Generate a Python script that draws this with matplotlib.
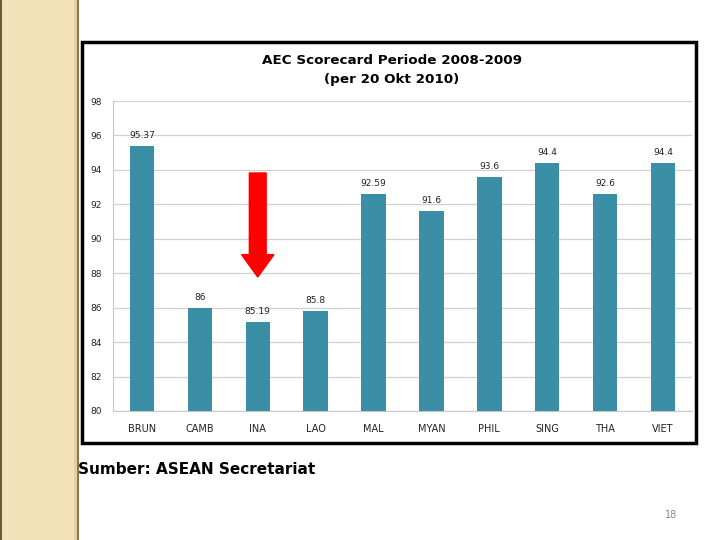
import numpy as np
import matplotlib.pyplot as plt
from matplotlib.patches import Rectangle, FancyArrow

# data
countries = ['BRUN', 'CAMB', 'INA', 'LAO', 'MAL', 'MYAN', 'PHIL', 'SING', 'THA', 'VIET']
scores = [95.37, 86, 85.19, 85.8, 92.59, 91.6, 93.6, 94.4, 92.6, 94.4]
score_labels = ['95.37', '86', '85.19', '85.8', '92.59', '91.6', '93.6', '94.4', '92.6', '94.4']
yticks = [80, 82, 84, 86, 88, 90, 92, 94, 96, 98]

W, H = 720, 540
fig = plt.figure(figsize=[7.2, 5.4], dpi=100, facecolor='white')

# slide decoration: beige strip on the left
fig.patches.append(Rectangle((0, 0), 79/W, 1, transform=fig.transFigure,
                             facecolor='#f3e2b8', edgecolor='none', zorder=0))
fig.patches.append(Rectangle((74/W, 0), 3/W, 1, transform=fig.transFigure,
                             facecolor='#e3cf9f', edgecolor='none', zorder=0))
fig.patches.append(Rectangle((77/W, 0), 2/W, 1, transform=fig.transFigure,
                             facecolor='#8a7650', edgecolor='none', zorder=0))
fig.patches.append(Rectangle((0, 0), 1.5/W, 1, transform=fig.transFigure,
                             facecolor='#6b5a3a', edgecolor='none', zorder=0))

# chart frame
fig.patches.append(Rectangle((82/W, 1-443/H), 614/W, 401/H, transform=fig.transFigure,
                             facecolor='white', edgecolor='black', linewidth=2.5, zorder=1))

ax = fig.add_axes([113/W, 1-411/H, 579/W, 310/H], zorder=2)
ax.set_facecolor('none')
x = np.arange(len(countries))
ax.bar(x, scores, width=0.42, color='#3a8ea6', zorder=3)
for xi, s, lab in zip(x, scores, score_labels):
    ax.text(xi, s + 0.35, lab, ha='center', va='bottom', fontsize=6.5, color='#222222')

ax.set_xlim(-0.5, len(countries) - 0.5)
ax.set_ylim(80, 98)
ax.set_yticks(yticks)
ax.set_yticklabels([str(t) for t in yticks])
ax.set_xticks(x)
ax.set_xticklabels(countries)
ax.yaxis.grid(True, color='#d0d0d0', linewidth=0.9)
ax.set_axisbelow(True)
ax.tick_params(axis='y', length=0, labelsize=6.5, pad=8, colors='#222222')
ax.tick_params(axis='x', length=0, labelsize=7, pad=9, colors='#222222')
for side in ['top', 'right']:
    ax.spines[side].set_visible(False)
ax.spines['left'].set_color('#c8c8c8')
ax.spines['bottom'].set_color('#c8c8c8')

# red arrow pointing at INA
ax.add_patch(FancyArrow(2, 93.82, 0, -6.04, width=0.29, head_width=0.56,
                        head_length=1.3, length_includes_head=True,
                        color='#ff0000', zorder=4))

fig.text(392/W, 1-60/H, 'AEC Scorecard Periode 2008-2009', ha='center', va='center',
         fontsize=9.7, fontweight='bold')
fig.text(392/W, 1-80/H, '(per 20 Okt 2010)', ha='center', va='center',
         fontsize=9.7, fontweight='bold')

fig.text(78/W, 1-469/H, 'Sumber: ASEAN Secretariat', ha='left', va='center',
         fontsize=11, fontweight='heavy')
fig.text(671/W, 1-515/H, '18', ha='center', va='center', fontsize=7, color='#888888')

plt.savefig('out.png', dpi=100, facecolor='white')
